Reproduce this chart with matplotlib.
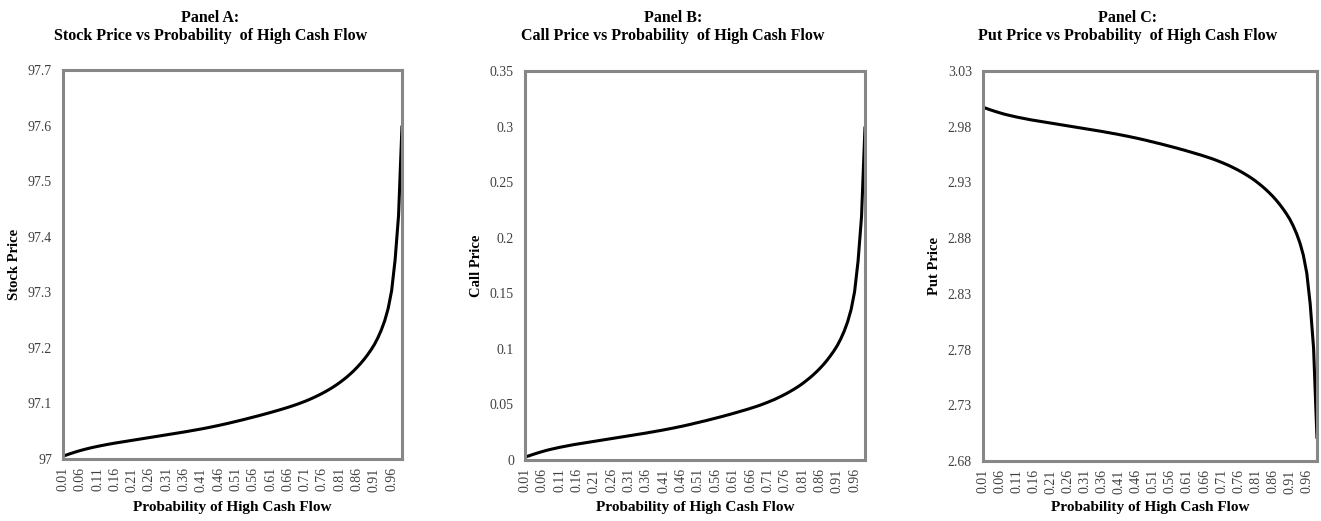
import matplotlib
matplotlib.use('Agg')
import matplotlib.pyplot as plt
from matplotlib.ticker import FuncFormatter

plt.rcParams['font.family'] = ['Liberation Serif', 'DejaVu Serif']

# probability of high cash flow, 0.01 .. 0.99
prob = [round(0.01 * k, 2) for k in range(1, 100)]

stock_price = [
    97.0050, 97.0072, 97.0094, 97.0114, 97.0134, 97.0152, 97.0169, 97.0185, 97.0200, 97.0214,
    97.0227, 97.0240, 97.0252, 97.0264, 97.0275, 97.0286, 97.0296, 97.0306, 97.0316, 97.0326,
    97.0336, 97.0346, 97.0356, 97.0366, 97.0376, 97.0386, 97.0396, 97.0406, 97.0416, 97.0426,
    97.0436, 97.0446, 97.0456, 97.0466, 97.0476, 97.0486, 97.0497, 97.0508, 97.0519, 97.0530,
    97.0541, 97.0553, 97.0565, 97.0578, 97.0591, 97.0604, 97.0618, 97.0632, 97.0646, 97.0661,
    97.0676, 97.0691, 97.0706, 97.0722, 97.0738, 97.0754, 97.0770, 97.0786, 97.0803, 97.0820,
    97.0837, 97.0855, 97.0873, 97.0891, 97.0910, 97.0929, 97.0949, 97.0970, 97.0992, 97.1015,
    97.1039, 97.1065, 97.1092, 97.1121, 97.1151, 97.1183, 97.1217, 97.1253, 97.1291, 97.1332,
    97.1376, 97.1423, 97.1473, 97.1527, 97.1585, 97.1648, 97.1716, 97.1790, 97.1871, 97.1960,
    97.2058, 97.2178, 97.2318, 97.2488, 97.2708, 97.3028, 97.3578, 97.4378, 97.6000,
]

call_price = [
    0.0027, 0.0036, 0.0047, 0.0057, 0.0067, 0.0076, 0.0085, 0.0093, 0.0100, 0.0107,
    0.0114, 0.0120, 0.0126, 0.0132, 0.0138, 0.0143, 0.0148, 0.0153, 0.0158, 0.0163,
    0.0168, 0.0173, 0.0178, 0.0183, 0.0188, 0.0193, 0.0198, 0.0203, 0.0208, 0.0213,
    0.0218, 0.0223, 0.0228, 0.0233, 0.0238, 0.0243, 0.0249, 0.0254, 0.0260, 0.0265,
    0.0271, 0.0277, 0.0283, 0.0289, 0.0296, 0.0302, 0.0309, 0.0316, 0.0323, 0.0331,
    0.0338, 0.0346, 0.0353, 0.0361, 0.0369, 0.0377, 0.0385, 0.0393, 0.0402, 0.0410,
    0.0419, 0.0428, 0.0437, 0.0446, 0.0455, 0.0465, 0.0475, 0.0485, 0.0496, 0.0508,
    0.0520, 0.0533, 0.0546, 0.0561, 0.0576, 0.0592, 0.0609, 0.0627, 0.0646, 0.0666,
    0.0688, 0.0712, 0.0737, 0.0764, 0.0793, 0.0824, 0.0858, 0.0895, 0.0936, 0.0980,
    0.1029, 0.1089, 0.1159, 0.1244, 0.1354, 0.1514, 0.1789, 0.2189, 0.3000,
]

put_price = [
    2.9975, 2.9964, 2.9953, 2.9943, 2.9933, 2.9924, 2.9915, 2.9907, 2.9900, 2.9893,
    2.9886, 2.9880, 2.9874, 2.9868, 2.9862, 2.9857, 2.9852, 2.9847, 2.9842, 2.9837,
    2.9832, 2.9827, 2.9822, 2.9817, 2.9812, 2.9807, 2.9802, 2.9797, 2.9792, 2.9787,
    2.9782, 2.9777, 2.9772, 2.9767, 2.9762, 2.9757, 2.9751, 2.9746, 2.9740, 2.9735,
    2.9729, 2.9723, 2.9717, 2.9711, 2.9704, 2.9698, 2.9691, 2.9684, 2.9677, 2.9669,
    2.9662, 2.9654, 2.9647, 2.9639, 2.9631, 2.9623, 2.9615, 2.9607, 2.9598, 2.9590,
    2.9581, 2.9572, 2.9563, 2.9554, 2.9545, 2.9535, 2.9525, 2.9515, 2.9504, 2.9492,
    2.9480, 2.9467, 2.9454, 2.9439, 2.9424, 2.9408, 2.9391, 2.9373, 2.9354, 2.9334,
    2.9312, 2.9288, 2.9263, 2.9236, 2.9207, 2.9176, 2.9142, 2.9105, 2.9064, 2.9020,
    2.8971, 2.8911, 2.8841, 2.8756, 2.8646, 2.8486, 2.8211, 2.7811, 2.7000,
]

panels = [
    ('Panel A:\nStock Price vs Probability  of High Cash Flow', 'Stock Price',
     stock_price, [97.0, 97.1, 97.2, 97.3, 97.4, 97.5, 97.6, 97.7]),
    ('Panel B:\nCall Price vs Probability  of High Cash Flow', 'Call Price',
     call_price, [0, 0.05, 0.1, 0.15, 0.2, 0.25, 0.3, 0.35]),
    ('Panel C:\nPut Price vs Probability  of High Cash Flow', 'Put Price',
     put_price, [2.68, 2.73, 2.78, 2.83, 2.88, 2.93, 2.98, 3.03]),
]

W, H = 1321, 521
# plot-area boxes in pixels: left, right, top, bottom
boxes = [(63, 402, 70, 459), (525, 865, 71, 460), (983, 1317, 71, 461)]

fig = plt.figure(figsize=(W / 100, H / 100), dpi=100)
xpos = list(range(len(prob)))
tick_idx = xpos[::5]

for (title, ylab, vals, yticks), (l, r, t, b) in zip(panels, boxes):
    ax = fig.add_axes([l / W, 1 - b / H, (r - l) / W, (b - t) / H])
    ax.plot(xpos, vals, color='black', lw=2.2, solid_capstyle='butt')
    ax.set_xlim(0, len(prob) - 1)
    ax.set_ylim(yticks[0], yticks[-1])
    ax.set_yticks(yticks)
    ax.yaxis.set_major_formatter(FuncFormatter(lambda v, p: '{:g}'.format(round(v, 2))))
    ax.set_xticks(tick_idx)
    ax.set_xticklabels(['{:.2f}'.format(prob[i]) for i in tick_idx], rotation=90)
    ax.tick_params(axis='both', length=0, labelsize=10, labelcolor='#404040')
    ax.tick_params(axis='y', pad=8)
    ax.tick_params(axis='x', pad=6)
    for s in ax.spines.values():
        s.set_color('#878787')
        s.set_linewidth(2.2)
    cx = (l + r) / 2
    fig.text((cx - 22) / W, 1 - 27 / H, title, ha='center', va='center',
             fontsize=11.5, fontweight='bold', linespacing=1.1)
    fig.text(cx / W, 1 - 508 / H, 'Probability of High Cash Flow', ha='center',
             va='center', fontsize=11, fontweight='bold')
    fig.text((l - 48) / W, 1 - ((t + b) / 2) / H, ylab, ha='center', va='center',
             rotation=90, fontsize=10.5, fontweight='bold')

fig.savefig('out.png', dpi=100)
